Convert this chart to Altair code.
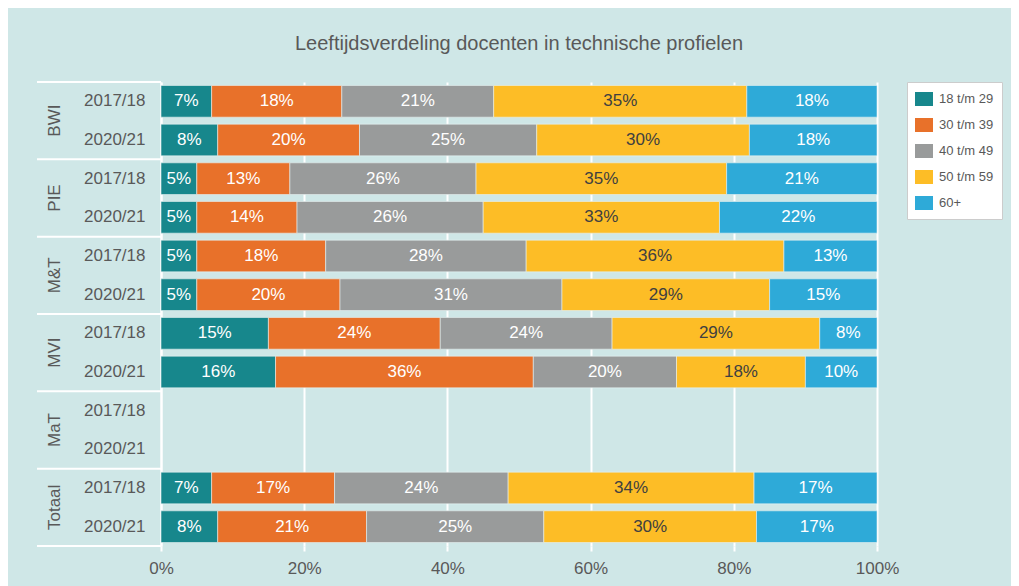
import altair as alt
import pandas as pd

groups = ["BWI", "PIE", "M&T", "MVI", "MaT", "Totaal"]
years = ["2017/18", "2020/21"]
ages = ["18 t/m 29", "30 t/m 39", "40 t/m 49", "50 t/m 59", "60+"]
colors = ["#17878c", "#e8712a", "#999b9b", "#fdbd26", "#2eaad8"]
text_colors = ["#ffffff", "#ffffff", "#ffffff", "#404040", "#ffffff"]

# one value per row: BWI 17/18, BWI 20/21, PIE ..., M&T ..., MVI ..., MaT ..., Totaal ...
age_18_29 = [7, 8, 5, 5, 5, 5, 15, 16, None, None, 7, 8]
age_30_39 = [18, 20, 13, 14, 18, 20, 24, 36, None, None, 17, 21]
age_40_49 = [21, 25, 26, 26, 28, 31, 24, 20, None, None, 24, 25]
age_50_59 = [35, 30, 35, 33, 36, 29, 29, 18, None, None, 34, 30]
age_60 = [18, 18, 21, 22, 13, 15, 8, 10, None, None, 17, 17]

series = [age_18_29, age_30_39, age_40_49, age_50_59, age_60]
keys = [f"{g}|{y}" for g in groups for y in years]

rows = []
for ai, (age, vals) in enumerate(zip(ages, series)):
    for k, v in zip(keys, vals):
        if v is None:
            continue
        rows.append({"key": k, "age": age, "order": ai, "value": v,
                     "label": f"{v}%", "tcolor": text_colors[ai]})
df = pd.DataFrame(rows)

grp_df = pd.DataFrame({"group": groups, "key": [f"{g}|{years[0]}" for g in groups]})
bottom_df = pd.DataFrame({"key": [keys[-1]]})

yscale = alt.Scale(domain=keys, paddingInner=0, paddingOuter=0)
FONT = "Liberation Sans"
GREY = "#595959"

base = alt.Chart(df).transform_stack(
    stack="value", groupby=["key"], as_=["x0", "x1"], offset="normalize",
    sort=[alt.SortField("order", order="ascending")]
)

bars = base.mark_bar(height={"band": 0.82}, stroke="#e8f2f2", strokeWidth=0.6).encode(
    y=alt.Y("key:N", scale=yscale, sort=keys,
            axis=alt.Axis(title=None, labelExpr="split(datum.label, '|')[1]",
                          labelFontSize=17, labelColor=GREY, labelFont=FONT,
                          labelPadding=16, ticks=False, domainColor="white",
                          domainWidth=2, grid=False)),
    x=alt.X("x0:Q", scale=alt.Scale(domain=[0, 1], nice=False),
            axis=alt.Axis(title=None, format=".0%", values=[0, 0.2, 0.4, 0.6, 0.8, 1.0],
                          labelFontSize=17, labelColor=GREY, labelFont=FONT,
                          labelFlush=False,
                          grid=True, gridColor="white", gridWidth=2,
                          tickColor="white", tickWidth=2, tickSize=5,
                          labelPadding=9, domain=False)),
    x2="x1:Q",
    color=alt.Color("age:N", scale=alt.Scale(domain=ages, range=colors),
                    legend=alt.Legend(title=None, orient="none", legendX=746, legendY=0,
                                      fillColor="white", strokeColor="#cccccc",
                                      padding=8, labelFontSize=13, labelColor=GREY,
                                      labelFont=FONT, rowPadding=9,
                                      symbolType="M-1,-0.78L1,-0.78L1,0.78L-1,0.78Z",
                                      symbolSize=324, symbolStrokeWidth=0,
                                      labelOffset=6)),
)

texts = base.transform_calculate(mid="(datum.x0 + datum.x1) / 2").mark_text(
    fontSize=17, font=FONT, baseline="middle", align="center"
).encode(
    y=alt.Y("key:N", scale=yscale, sort=keys),
    x=alt.X("mid:Q"),
    text="label:N",
    color=alt.Color("tcolor:N", scale=None),
)

group_labels = alt.Chart(grp_df).mark_text(
    angle=270, fontSize=17, font=FONT, color=GREY, align="center", baseline="middle"
).encode(
    y=alt.Y("key:N", scale=yscale, sort=keys, bandPosition=1),
    x=alt.value(-106),
    text="group:N",
)

sep_top = alt.Chart(grp_df).mark_rule(color="white", strokeWidth=2).encode(
    y=alt.Y("key:N", scale=yscale, sort=keys, bandPosition=0),
    x=alt.value(-124), x2=alt.value(0),
)
sep_bottom = alt.Chart(bottom_df).mark_rule(color="white", strokeWidth=2).encode(
    y=alt.Y("key:N", scale=yscale, sort=keys, bandPosition=1),
    x=alt.value(-124), x2=alt.value(0),
)

chart = alt.layer(bars, texts, sep_top, sep_bottom, group_labels).properties(
    width=716, height=464,
    title=alt.TitleParams("Leeftijdsverdeling docenten in technische profielen",
                          fontSize=20, font=FONT, color=GREY, fontWeight="normal",
                          anchor="middle", offset=27),
    autosize=alt.AutoSizeParams(type="none"),
    padding={"left": 153, "top": 74, "right": 134, "bottom": 40},
    background="#cfe7e7",
).configure_view(stroke=None)

chart.save("out.html", embed_options={"renderer": "svg", "actions": False})
